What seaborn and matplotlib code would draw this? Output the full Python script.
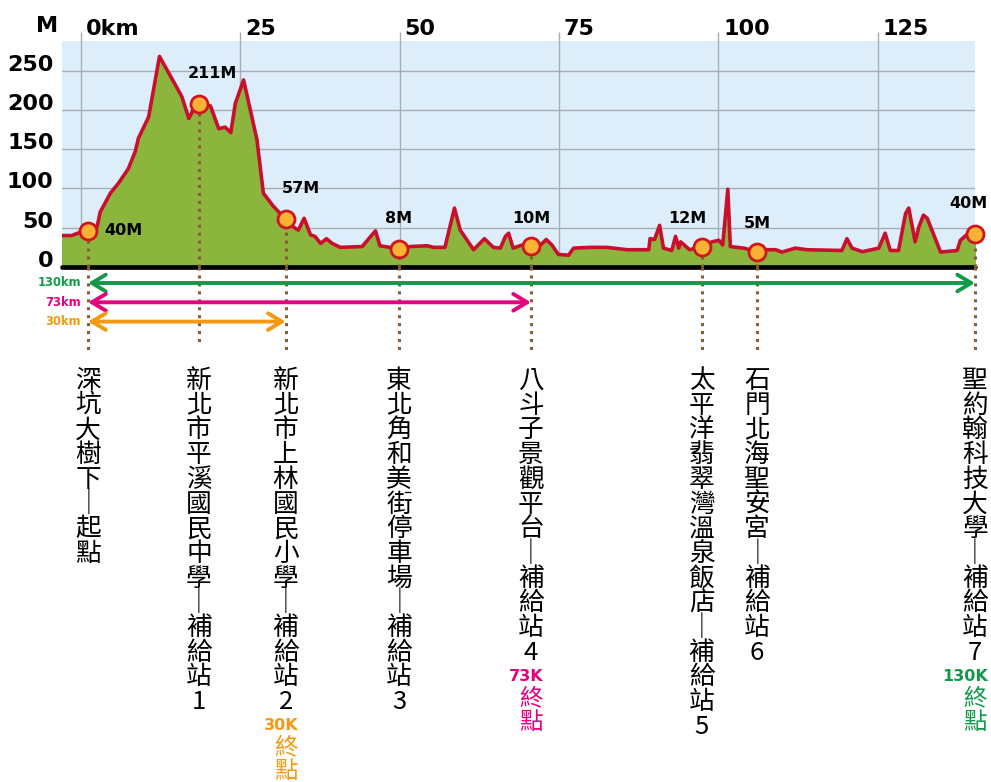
import numpy as np
import pandas as pd
import seaborn as sns
import matplotlib.pyplot as plt
from matplotlib.transforms import ScaledTranslation

profile_km = [-3.0, -1.5, -0.2, 1.1, 2.5, 3.0, 4.6, 5.9, 7.4, 8.5, 9.0, 10.6, 12.3, 14.5, 15.8,
              16.9, 17.6, 18.5, 20.3, 21.6, 22.6, 23.5, 24.2, 25.5, 27.6, 28.6, 30.2, 32.1, 33.3,
              34.1, 35.0, 36.0, 36.7, 37.6, 38.5, 39.4, 40.7, 44.1, 46.2, 46.9, 49.9, 51.6, 54.3,
              55.3, 57.1, 58.6, 59.5, 61.6, 63.3, 64.7, 65.8, 66.6, 67.1, 67.8, 69.2, 70.6, 72.1,
              73.0, 73.9, 74.9, 76.5, 77.3, 79.9, 82.5, 85.7, 89.1, 89.3, 90.0, 90.8, 91.4, 92.7,
              93.3, 93.8, 94.1, 95.5, 97.4, 99.0, 100.1, 100.7, 101.5, 101.9, 104.0, 106.1, 107.6,
              109.0, 110.0, 112.1, 113.9, 119.4, 120.2, 121.0, 122.6, 125.2, 126.2, 127.0, 128.3,
              129.4, 129.9, 130.9, 131.5, 132.2, 132.8, 134.9, 137.5, 138.0, 139.0, 140.3]
profile_m = [40, 40, 44, 46, 51, 70, 94, 107, 125, 147, 164, 191, 268, 236, 217,
             189, 200, 207, 205, 176, 178, 171, 208, 238, 162, 94, 77, 61, 51,
             47, 62, 41, 39, 30, 36, 30, 25, 26, 46, 27, 23, 26, 27,
             25, 25, 75, 47, 22, 36, 25, 24, 39, 43, 24, 28, 27, 28,
             35, 28, 16, 15, 24, 25, 25, 22, 22, 36, 35, 53, 24, 21,
             39, 24, 32, 22, 26, 32, 34, 28, 99, 26, 24, 19.5, 22,
             22, 19, 24, 22, 21, 36, 24, 19.5, 24, 43, 21, 21,
             68, 75, 32, 51, 66, 62, 19, 21, 34, 41, 42]

# Stationen
stop_km = [1.1, 18.5, 32.1, 49.9, 70.6, 97.4, 106.1, 140.3]
stop_m = [46, 207, 61, 23, 27, 26, 19.5, 42]
stop_text = ["40M", "211M", "57M", "8M", "10M", "12M", "5M", "40M"]
stop_names = ["深坑大樹下│起點", "新北市平溪國民中學│補給站1", "新北市上林國民小學│補給站2",
              "東北角和美街停車場│補給站3", "八斗子景觀平台│補給站4",
              "太平洋翡翠灣溫泉飯店│補給站5", "石門北海聖安宮│補給站6", "聖約翰科技大學│補給站7"]

# Strecken
route_names = ["130km", "73km", "30km"]
route_end = [7, 4, 2]
route_colors = ["#13994a", "#e4007f", "#f39a12"]
finish_text = ["130K", "73K", "30K"]

x_ticks = [0, 25, 50, 75, 100, 125]
x_ticklabels = ["0km", "25", "50", "75", "100", "125"]
y_ticks = [0, 50, 100, 150, 200, 250]

sns.set_theme(style="white")
plt.rcParams["font.family"] = ["DejaVu Sans", "Noto Sans CJK TC"]
plt.rcParams["text.color"] = "black"
cjk = ["Noto Sans CJK TC", "DejaVu Sans"]

fig = plt.figure(figsize=(9.91, 7.82), dpi=100)
L, R, T, B = 62, 975, 40.7, 267
ax = fig.add_axes([L / 991, 1 - B / 782, (R - L) / 991, (B - T) / 782])
lo = fig.add_axes([L / 991, 0, (R - L) / 991, (782 - B) / 782], sharex=ax)

df = pd.DataFrame({"km": profile_km, "m": profile_m})
ax.set_facecolor("#ddeefa")
ax.fill_between(df["km"], df["m"], color="#8cb53e", zorder=2)
sns.lineplot(data=df, x="km", y="m", ax=ax, color="#c8102e", lw=2.6, estimator=None,
             sort=False, zorder=4)
ax.axhline(0, color="black", lw=3.4, zorder=5, clip_on=False)

ax.set_xlim(-3.0, 140.3)
ax.set_ylim(0, 288)
for g in y_ticks[1:]:
    ax.axhline(g, color="#a7adb3", lw=1, zorder=1)
for g in x_ticks:
    ax.axvline(g, color="#a7adb3", lw=1, zorder=1)

# Achsen
ax.set_yticks(y_ticks)
ax.set_yticklabels([str(v) for v in y_ticks], fontsize=16, fontweight="bold", color="black")
ax.tick_params(axis="y", length=0, pad=6)
for lbl in ax.get_yticklabels():
    lbl.set_transform(lbl.get_transform() + ScaledTranslation(0, 0.08, fig.dpi_scale_trans))
ax.xaxis.tick_top()
ax.set_xticks(x_ticks)
ax.set_xticklabels(x_ticklabels, fontsize=16, fontweight="bold", color="black", ha="left")
ax.tick_params(axis="x", length=6.5, width=1, color="#a7adb3", pad=-5.0)
for lbl in ax.get_xticklabels():
    lbl.set_transform(lbl.get_transform() + ScaledTranslation(0.05, 0, fig.dpi_scale_trans))
ax.set_xlabel("")
ax.set_ylabel("")
for s in ax.spines.values():
    s.set_visible(False)
fig.text(58 / 991, 1 - 26 / 782, "M", ha="right", va="center", fontsize=16,
         fontweight="bold", color="black")

# Stationen: gepunktete Linien, Marker, Höhen
ax.vlines(stop_km, 0, stop_m, colors="#8a5a30", linestyles=(0, (1, 1.6)), lw=2.2, zorder=6,
          clip_on=False)
sns.scatterplot(x=stop_km, y=stop_m, ax=ax, s=150, color="#f9b233", edgecolor="#d2141e",
                linewidth=2, zorder=8, clip_on=False)
offsets = [(12, 0, "left"), (10, 22, "center"), (11, 22, "center"), (0, 22, "center"),
           (0, 20, "center"), (-10, 20, "center"), (0, 20, "center"), (-5, 22, "center")]
for x, y, t, (dx, dy, ha) in zip(stop_km, stop_m, stop_text, offsets):
    ax.annotate(t, (x, y), xytext=(dx, dy), textcoords="offset points", ha=ha, va="center",
                fontsize=11.5, fontweight="bold", color="black", zorder=9,
                annotation_clip=False)

# Unterer Bereich
lo.set_ylim(782, B)
lo.axis("off")
dot_end = [350, 345, 350, 350, 350, 350, 350, 350]
lo.vlines(stop_km, B, dot_end, colors="#8a5a30", linestyles=(0, (1, 1.6)), lw=2.2,
          clip_on=False)

for i, (name, end, col) in enumerate(zip(route_names, route_end, route_colors)):
    y = 283 + i * 19.3
    lo.annotate("", xy=(stop_km[end], y), xytext=(stop_km[0], y),
                arrowprops=dict(arrowstyle="<->,head_length=1.0,head_width=0.6", lw=2.8,
                                color=col, shrinkA=0, shrinkB=0, mutation_scale=10))
    lo.text(stop_km[0] - 1.1, y, name, ha="right", va="center", color=col, fontsize=8.3,
            fontweight="bold")

top, pitch = 381, 24.7
for x, name in zip(stop_km, stop_names):
    for j, ch in enumerate(name):
        lo.text(x, top + j * pitch, ch, ha="center", va="center", fontsize=18.5,
                family=cjk, color="black", clip_on=False)

for end, col, ft in zip(route_end, route_colors, finish_text):
    x = stop_km[end]
    y0 = top + len(stop_names[end]) * pitch - 1
    lo.annotate(ft, (x, y0), xytext=(9, 0), textcoords="offset points", ha="right",
                va="center", color=col, fontsize=11.5, fontweight="bold")
    lo.text(x, y0 + 22, "終", ha="center", va="center", color=col, fontsize=17, family=cjk)
    lo.text(x, y0 + 46, "點", ha="center", va="center", color=col, fontsize=17, family=cjk)

fig.savefig("out.png", dpi=100)
